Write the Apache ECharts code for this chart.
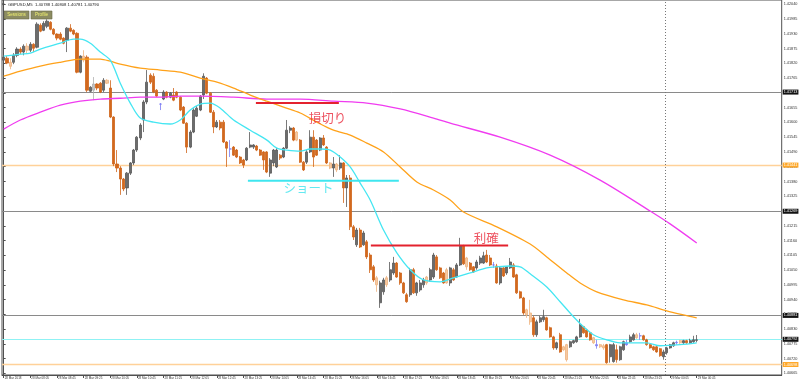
<!DOCTYPE html>
<html><head><meta charset="utf-8">
<script src="https://cdn.jsdelivr.net/npm/echarts@6/dist/echarts.min.js"></script>
<style>html,body{margin:0;padding:0;background:#fff}#c{width:800px;height:384px}</style>
</head><body><div id="c"></div>
<script>
// ---- data (GBPUSD M5, 28 Mar 2018 07:25 .. 29 Mar 00:45) ----
const opens = [1.41832,1.41839,1.41824,1.41824,1.41850,1.41873,1.41862,1.41884,1.41869,1.41891,
1.41880,1.41962,1.41943,1.41958,1.41973,1.41947,1.41929,1.41929,1.41914,1.41906,
1.41951,1.41943,1.41932,1.41787,1.41847,1.41843,1.41716,1.41720,1.41743,1.41746,
1.41720,1.41757,1.41728,1.41620,1.41445,1.41430,1.41389,1.41356,1.41411,1.41449,
1.41497,1.41542,1.41609,1.41676,1.41776,1.41772,1.41720,1.41668,1.41687,1.41713,
1.41694,1.41702,1.41713,1.41694,1.41657,1.41597,1.41508,1.41564,1.41623,1.41646,
1.41702,1.41765,1.41709,1.41638,1.41583,1.41601,1.41601,1.41527,1.41501,1.41508,
1.41497,1.41471,1.41460,1.41460,1.41508,1.41508,1.41512,1.41497,1.41490,1.41490,
1.41411,1.41449,1.41434,1.41478,1.41471,1.41504,1.41571,1.41579,1.41564,1.41534,
1.41452,1.41452,1.41490,1.41545,1.41534,1.41497,1.41542,1.41508,1.41449,1.41430,
1.41445,1.41430,1.41449,1.41356,1.41393,1.41211,1.41144,1.41199,1.41144,1.41155,
1.41106,1.41062,1.41021,1.40928,1.40969,1.41021,1.41013,1.41039,1.41076,1.41039,
1.41002,1.40958,1.40958,1.41051,1.40965,1.40976,1.40995,1.41024,1.41013,1.41024,
1.41099,1.41058,1.41039,1.41051,1.41002,1.41051,1.41024,1.41069,1.41140,1.41095,
1.41076,1.41062,1.41058,1.41076,1.41076,1.41106,1.41095,1.41069,1.41065,1.41002,
1.41058,1.41039,1.41058,1.41069,1.41032,1.40969,1.40946,1.40902,1.40890,1.40872,
1.40809,1.40857,1.40865,1.40872,1.40835,1.40801,1.40760,1.40809,1.40764,1.40772,
1.40764,1.40779,1.40783,1.40801,1.40839,1.40827,1.40816,1.40798,1.40772,1.40772,
1.40768,1.40772,1.40727,1.40709,1.40753,1.40716,1.40753,1.40772,1.40783,1.40790,
1.40809,1.40805,1.40805,1.40790,1.40772,1.40764,1.40764,1.40757,1.40727,1.40742,
1.40760,1.40768,1.40779,1.40787,1.40779,1.40787,1.40779,1.40783,1.40788];
const closes = [1.41843,1.41821,1.41809,1.41850,1.41873,1.41862,1.41884,1.41869,1.41891,1.41876,
1.41966,1.41940,1.41969,1.41977,1.41947,1.41929,1.41914,1.41910,1.41895,1.41951,
1.41940,1.41929,1.41787,1.41847,1.41832,1.41720,1.41731,1.41743,1.41728,1.41713,
1.41757,1.41746,1.41620,1.41445,1.41430,1.41389,1.41352,1.41411,1.41449,1.41497,
1.41545,1.41590,1.41676,1.41750,1.41750,1.41713,1.41698,1.41668,1.41713,1.41694,
1.41709,1.41683,1.41694,1.41646,1.41597,1.41508,1.41564,1.41646,1.41653,1.41698,
1.41772,1.41709,1.41638,1.41583,1.41601,1.41579,1.41527,1.41504,1.41501,1.41478,
1.41471,1.41449,1.41441,1.41504,1.41516,1.41516,1.41497,1.41478,1.41460,1.41415,
1.41460,1.41497,1.41497,1.41467,1.41504,1.41571,1.41579,1.41534,1.41534,1.41452,
1.41423,1.41490,1.41545,1.41471,1.41478,1.41542,1.41516,1.41449,1.41430,1.41445,
1.41423,1.41449,1.41356,1.41393,1.41211,1.41173,1.41199,1.41136,1.41188,1.41099,
1.41051,1.41013,1.40995,1.41002,1.41013,1.40995,1.41051,1.41076,1.41024,1.41002,
1.40965,1.40932,1.41051,1.40965,1.41002,1.41002,1.41013,1.41002,1.41051,1.41106,
1.41051,1.41021,1.41002,1.41002,1.41058,1.41013,1.41069,1.41140,1.41073,1.41062,
1.41051,1.41043,1.41080,1.41095,1.41103,1.41080,1.41069,1.41069,1.41002,1.41058,
1.41028,1.41062,1.41080,1.41024,1.40965,1.40946,1.40890,1.40883,1.40857,1.40809,
1.40857,1.40872,1.40876,1.40827,1.40801,1.40760,1.40779,1.40745,1.40753,1.40716,
1.40783,1.40787,1.40801,1.40846,1.40816,1.40801,1.40790,1.40779,1.40768,1.40764,
1.40760,1.40705,1.40772,1.40772,1.40716,1.40764,1.40783,1.40779,1.40801,1.40809,
1.40798,1.40805,1.40790,1.40772,1.40760,1.40753,1.40745,1.40731,1.40745,1.40760,
1.40772,1.40779,1.40781,1.40779,1.40787,1.40779,1.40787,1.40790,1.40790];
const lows = [1.41824,1.41817,1.41798,1.41817,1.41843,1.41854,1.41850,1.41858,1.41862,1.41862,
1.41876,1.41936,1.41940,1.41951,1.41943,1.41925,1.41906,1.41906,1.41891,1.41862,
1.41936,1.41925,1.41783,1.41783,1.41824,1.41713,1.41713,1.41683,1.41720,1.41709,
1.41713,1.41743,1.41616,1.41437,1.41415,1.41330,1.41344,1.41330,1.41404,1.41441,
1.41490,1.41534,1.41564,1.41668,1.41743,1.41709,1.41694,1.41646,1.41683,1.41690,
1.41690,1.41679,1.41690,1.41642,1.41594,1.41486,1.41504,1.41560,1.41620,1.41642,
1.41687,1.41705,1.41635,1.41560,1.41579,1.41571,1.41523,1.41434,1.41471,1.41475,
1.41467,1.41445,1.41430,1.41456,1.41504,1.41501,1.41493,1.41475,1.41423,1.41411,
1.41397,1.41437,1.41430,1.41460,1.41467,1.41501,1.41560,1.41530,1.41530,1.41449,
1.41419,1.41445,1.41486,1.41434,1.41475,1.41493,1.41512,1.41445,1.41426,1.41397,
1.41415,1.41423,1.41300,1.41285,1.41199,1.41162,1.41136,1.41132,1.41140,1.41091,
1.41039,1.41006,1.40969,1.40909,1.40958,1.40987,1.41006,1.41032,1.41021,1.40995,
1.40961,1.40928,1.40950,1.40961,1.40954,1.40969,1.40984,1.40995,1.41006,1.41017,
1.41047,1.41017,1.40999,1.40999,1.40991,1.41010,1.41021,1.41065,1.41069,1.41051,
1.41047,1.41039,1.41051,1.41069,1.41073,1.41076,1.41065,1.41058,1.40999,1.40995,
1.41024,1.41032,1.41054,1.41021,1.40961,1.40943,1.40883,1.40872,1.40846,1.40801,
1.40801,1.40853,1.40857,1.40824,1.40798,1.40753,1.40753,1.40742,1.40749,1.40709,
1.40760,1.40775,1.40779,1.40798,1.40813,1.40798,1.40787,1.40775,1.40757,1.40760,
1.40753,1.40701,1.40705,1.40705,1.40705,1.40712,1.40749,1.40768,1.40779,1.40787,
1.40794,1.40790,1.40787,1.40768,1.40757,1.40749,1.40742,1.40727,1.40716,1.40735,
1.40757,1.40764,1.40772,1.40775,1.40775,1.40775,1.40775,1.40779,1.40781];
const highs = [1.41854,1.41847,1.41839,1.41858,1.41880,1.41880,1.41891,1.41895,1.41899,1.41895,
1.41973,1.41969,1.41977,1.41984,1.41977,1.41951,1.41932,1.41936,1.41917,1.41955,
1.41966,1.41947,1.41936,1.41850,1.41869,1.41850,1.41735,1.41769,1.41746,1.41750,
1.41765,1.41761,1.41757,1.41623,1.41497,1.41437,1.41393,1.41415,1.41452,1.41501,
1.41549,1.41597,1.41683,1.41795,1.41783,1.41783,1.41724,1.41672,1.41720,1.41716,
1.41713,1.41728,1.41716,1.41698,1.41661,1.41601,1.41571,1.41653,1.41661,1.41702,
1.41783,1.41769,1.41713,1.41646,1.41609,1.41609,1.41609,1.41530,1.41534,1.41512,
1.41501,1.41475,1.41464,1.41508,1.41564,1.41519,1.41516,1.41501,1.41493,1.41493,
1.41467,1.41501,1.41504,1.41482,1.41508,1.41609,1.41586,1.41583,1.41568,1.41538,
1.41456,1.41497,1.41571,1.41571,1.41538,1.41545,1.41553,1.41512,1.41452,1.41471,
1.41449,1.41478,1.41452,1.41404,1.41404,1.41218,1.41207,1.41207,1.41196,1.41162,
1.41114,1.41069,1.41028,1.41010,1.41021,1.41028,1.41080,1.41099,1.41080,1.41043,
1.41006,1.40965,1.41058,1.41058,1.41006,1.41013,1.41021,1.41028,1.41058,1.41114,
1.41106,1.41062,1.41043,1.41058,1.41062,1.41058,1.41076,1.41170,1.41144,1.41099,
1.41080,1.41065,1.41088,1.41103,1.41118,1.41125,1.41106,1.41080,1.41073,1.41065,
1.41062,1.41065,1.41095,1.41076,1.41036,1.40973,1.40950,1.40906,1.40939,1.40879,
1.40865,1.40879,1.40902,1.40876,1.40839,1.40805,1.40783,1.40816,1.40768,1.40775,
1.40787,1.40790,1.40805,1.40868,1.40842,1.40831,1.40820,1.40801,1.40790,1.40775,
1.40775,1.40775,1.40775,1.40779,1.40772,1.40768,1.40787,1.40790,1.40809,1.40816,
1.40816,1.40816,1.40809,1.40794,1.40775,1.40768,1.40768,1.40760,1.40753,1.40764,
1.40775,1.40783,1.40787,1.40790,1.40790,1.40790,1.40794,1.40805,1.40808];

// faint / doji candles
const fadedBear = [2,7,24,31,88,98,100,112,115,127,133,139,157,158,168,169,177,179,180,190,203];
const fadedBull = [27];
const blueDoji = [47,68,147,178,187,191,202];

// moving averages: [bar index, price]
const maFast = [[0,1.41847],[5,1.41854],[8,1.41858],[11,1.41873],[17,1.41895],[21,1.41910],[23,1.41910],[26,1.41895],[29,1.41862],[32,1.41832],[35,1.41746],[38,1.41672],[41,1.41616],[45,1.41601],[50,1.41594],[53,1.41609],[56,1.41646],[59,1.41668],[62,1.41672],[65,1.41653],[69,1.41609],[74,1.41571],[79,1.41534],[82,1.41504],[85,1.41497],[89,1.41493],[92,1.41501],[95,1.41501],[98,1.41497],[101,1.41471],[104,1.41434],[107,1.41374],[110,1.41311],[114,1.41199],[118,1.41114],[122,1.41051],[126,1.41013],[131,1.41006],[135,1.41021],[140,1.41039],[145,1.41058],[148,1.41062],[152,1.41065],[155,1.41062],[158,1.41036],[163,1.40987],[167,1.40932],[171,1.40876],[174,1.40839],[177,1.40809],[181,1.40790],[185,1.40779],[193,1.40779],[197,1.40768],[203,1.40772],[208,1.40779]];
const maMid = [[0,1.41772],[5,1.41791],[11,1.41810],[17,1.41824],[23,1.41836],[29,1.41836],[32,1.41828],[35,1.41817],[41,1.41802],[47,1.41795],[53,1.41787],[59,1.41765],[64,1.41750],[69,1.41728],[74,1.41702],[79,1.41679],[84,1.41657],[89,1.41635],[94,1.41601],[99,1.41571],[104,1.41553],[109,1.41523],[114,1.41490],[119,1.41434],[124,1.41378],[129,1.41348],[134,1.41311],[138,1.41266],[148,1.41211],[158,1.41147],[163,1.41099],[169,1.41039],[173,1.41002],[178,1.40969],[186,1.40939],[193,1.40920],[199,1.40898],[204,1.40883],[208,1.40872]];
const maSlow = [[0,1.41575],[5,1.41609],[11,1.41638],[17,1.41664],[23,1.41679],[29,1.41687],[35,1.41690],[41,1.41694],[47,1.41694],[53,1.41698],[59,1.41698],[69,1.41694],[79,1.41687],[89,1.41687],[99,1.41679],[109,1.41672],[119,1.41650],[129,1.41616],[134,1.41597],[149,1.41545],[164,1.41478],[179,1.41385],[194,1.41270],[200,1.41222],[208,1.41151]];

// horizontal levels
const grayLevels = [1.41713, 1.41269, 1.40881];
const orangeLevels = [1.41441, 1.40698];
const cyanLevels = [1.40792];

// drawn segments and notes
const segFrom = [75.7, 73.3, 110.2];
const segTo = [100.6, 118.6, 151.4];
const segPrice = [1.41672, 1.41383, 1.41141];
const noteTexts = ['損切り', 'ショート', '利確'];
const noteBars = [97.2, 91.5, 144.8];
const notePrices = [1.41616, 1.41356, 1.41170];

const priceTicks = [1.40665,1.40720,1.40775,1.40830,1.40885,1.40940,1.40995,1.41050,1.41105,1.41160,1.41215,1.41270,1.41325,1.41380,1.41435,1.41490,1.41545,1.41600,1.41655,1.41710,1.41765,1.41820,1.41875,1.41930,1.41985,1.42040];
const xTickLabels = ['28 Mar 2018','28 Mar 08:05','28 Mar 08:45','28 Mar 09:25','28 Mar 10:05','28 Mar 10:45','28 Mar 11:25','28 Mar 12:05','28 Mar 12:45','28 Mar 13:25','28 Mar 14:05','28 Mar 14:45','28 Mar 15:25','28 Mar 16:05','28 Mar 16:45','28 Mar 17:25','28 Mar 18:05','28 Mar 18:45','28 Mar 19:25','28 Mar 20:05','28 Mar 20:45','28 Mar 21:25','28 Mar 22:05','28 Mar 22:45','28 Mar 23:25','29 Mar 00:05','29 Mar 00:45'];
const daySeparatorBar = 198.5;
const totalSlots = 234;

// ---- build ----
const cats = [];
for (let i = 0; i < totalSlots; i++) {
  const m = 7 * 60 + 25 + 5 * i;
  const d = m >= 1440 ? 29 : 28;
  const mm = m % 1440;
  cats.push(d + ' Mar ' + String(Math.floor(mm / 60)).padStart(2, '0') + ':' + String(mm % 60).padStart(2, '0'));
}
const candles = opens.map((o, i) => {
  const item = { value: [o, closes[i], lows[i], highs[i]] };
  if (fadedBear.includes(i)) item.itemStyle = { color: '#f5c9a3', color0: '#f5c9a3', borderColor: '#efb27e', borderColor0: '#efb27e' };
  else if (fadedBull.includes(i)) item.itemStyle = { color: '#c4c4c4', color0: '#c4c4c4', borderColor: '#b0b0b0', borderColor0: '#b0b0b0' };
  else if (blueDoji.includes(i)) item.itemStyle = { color: '#7a7af2', color0: '#7a7af2', borderColor: '#7a7af2', borderColor0: '#7a7af2', borderColorDoji: '#7a7af2' };
  return item;
});

function boxLabel(bg, fg) {
  return { show: true, position: 'end', distance: 1, formatter: p => p.value.toFixed(5),
    backgroundColor: bg, color: fg, fontSize: 3.8, fontFamily: 'Liberation Sans', padding: [1, 1, 0, 1] };
}
const levelLines = [];
grayLevels.forEach(v => levelLines.push({ yAxis: v, lineStyle: { color: '#8a8a8a', width: 1, type: 'solid' }, label: boxLabel('#111', '#fff') }));
orangeLevels.forEach(v => levelLines.push({ yAxis: v, lineStyle: { color: '#ffd199', width: 1.4, type: 'solid' }, label: boxLabel('#ffa726', '#fff') }));
cyanLevels.forEach(v => levelLines.push({ yAxis: v, lineStyle: { color: '#8ff2f4', width: 1.2, type: 'solid' }, label: boxLabel('#111', '#fff') }));

const segColors = ['#e3222e', '#3fe6ef', '#e3222e'];
const segSeries = segFrom.map((f, k) => ({
  type: 'line', xAxisIndex: 1, yAxisIndex: 0, symbol: 'none', z: 6, silent: true,
  lineStyle: { color: segColors[k], width: 2 },
  data: [[f, segPrice[k]], [segTo[k], segPrice[k]]]
}));
const noteColors = ['#e8283a', '#3de3ee', '#e8283a'];

const chart = echarts.init(document.getElementById('c'), null, { renderer: 'canvas' });
chart.setOption({
  animation: false,
  backgroundColor: '#ffffff',
  grid: { left: 2, right: 18.3, top: 0, bottom: 9, show: true, borderColor: '#505050', borderWidth: 1, containLabel: false, outerBoundsMode: 'none' },
  xAxis: [{
    type: 'category', data: cats, boundaryGap: true,
    axisLine: { show: true, lineStyle: { color: '#505050', width: 1 } },
    axisTick: { show: true, alignWithLabel: true, length: 3, interval: i => i % 8 === 0 && i <= 208, lineStyle: { color: '#505050' } },
    axisLabel: { show: true, interval: i => i % 8 === 0 && i <= 208, formatter: (v, i) => xTickLabels[i / 8] || '',
      align: 'left', margin: 2, fontSize: 3, color: '#333', fontFamily: 'Liberation Sans', hideOverlap: false, padding: [0, 0, 0, 1] },
    splitLine: { show: false }
  }, {
    type: 'value', min: -0.5, max: totalSlots - 0.5, show: false
  }],
  yAxis: [{
    type: 'value', position: 'right', min: 1.40659, max: 1.42056, scale: true,
    axisLine: { show: true, lineStyle: { color: '#505050', width: 1 } },
    axisTick: { show: true, length: 2, customValues: priceTicks, lineStyle: { color: '#505050' } },
    axisLabel: { show: true, customValues: priceTicks, formatter: v => v.toFixed(5), fontSize: 3.8, color: '#333',
      fontFamily: 'Liberation Sans', margin: 2, padding: [5, 0, 0, 0], hideOverlap: false },
    splitLine: { show: false }
  }],
  graphic: [
    { type: 'text', left: 2, top: 2, style: { text: '▾', fontSize: 5, fill: '#333' } },
    { type: 'text', left: 8, top: 2.5, style: { text: 'GBPUSD,M5  1.40788 1.40808 1.40781 1.40790', fontSize: 4.2, fill: '#222', fontFamily: 'Liberation Sans' } },
    { type: 'rect', shape: { x: 4, y: 11, width: 25, height: 8 }, style: { fill: '#8c8c62', stroke: '#6a6a48', lineWidth: 0.6 } },
    { type: 'text', x: 16.5, y: 15, style: { text: 'Sessions', fontSize: 4.6, fill: '#f2f270', align: 'center', verticalAlign: 'middle', fontFamily: 'Liberation Sans' } },
    { type: 'rect', shape: { x: 31, y: 11, width: 21, height: 8 }, style: { fill: '#8c8c62', stroke: '#6a6a48', lineWidth: 0.6 } },
    { type: 'text', x: 41.5, y: 15, style: { text: 'Profile', fontSize: 4.6, fill: '#f2f270', align: 'center', verticalAlign: 'middle', fontFamily: 'Liberation Sans' } }
  ],
  series: [
    {
      type: 'candlestick', xAxisIndex: 0, yAxisIndex: 0, barWidth: 2.6, z: 3,
      itemStyle: { color: '#6c6c6c', color0: '#d2691e', borderColor: '#585858', borderColor0: '#cf641a', borderWidth: 0.8 },
      data: candles,
      markLine: { silent: true, symbol: ['none', 'none'], precision: 5, z: 1, data: levelLines }
    },
    {
      type: 'line', name: 'sep', xAxisIndex: 1, yAxisIndex: 0, data: [], silent: true,
      markLine: { silent: true, symbol: ['none', 'none'], label: { show: false },
        lineStyle: { color: '#777', type: [1, 2], width: 1 }, data: [{ xAxis: daySeparatorBar }] }
    },
    { type: 'line', xAxisIndex: 1, yAxisIndex: 0, data: maSlow, symbol: 'none', smooth: 0.3, z: 4, lineStyle: { color: '#f03cf0', width: 1.3 } },
    { type: 'line', xAxisIndex: 1, yAxisIndex: 0, data: maMid, symbol: 'none', smooth: 0.3, z: 4, lineStyle: { color: '#ffa21a', width: 1.3 } },
    { type: 'line', xAxisIndex: 1, yAxisIndex: 0, data: maFast, symbol: 'none', smooth: 0.3, z: 4, lineStyle: { color: '#45e6f2', width: 1.3 } },
    ...segSeries,
    {
      type: 'scatter', xAxisIndex: 1, yAxisIndex: 0, symbolSize: 1, z: 7, silent: true,
      itemStyle: { color: 'transparent' },
      data: noteTexts.map((t, k) => ({ name: t, value: [noteBars[k], notePrices[k]],
        label: { show: true, position: 'inside', formatter: '{b}', fontSize: 12.5, color: noteColors[k], fontFamily: 'Noto Sans CJK JP' } }))
    }
  ]
});
</script></body></html>
